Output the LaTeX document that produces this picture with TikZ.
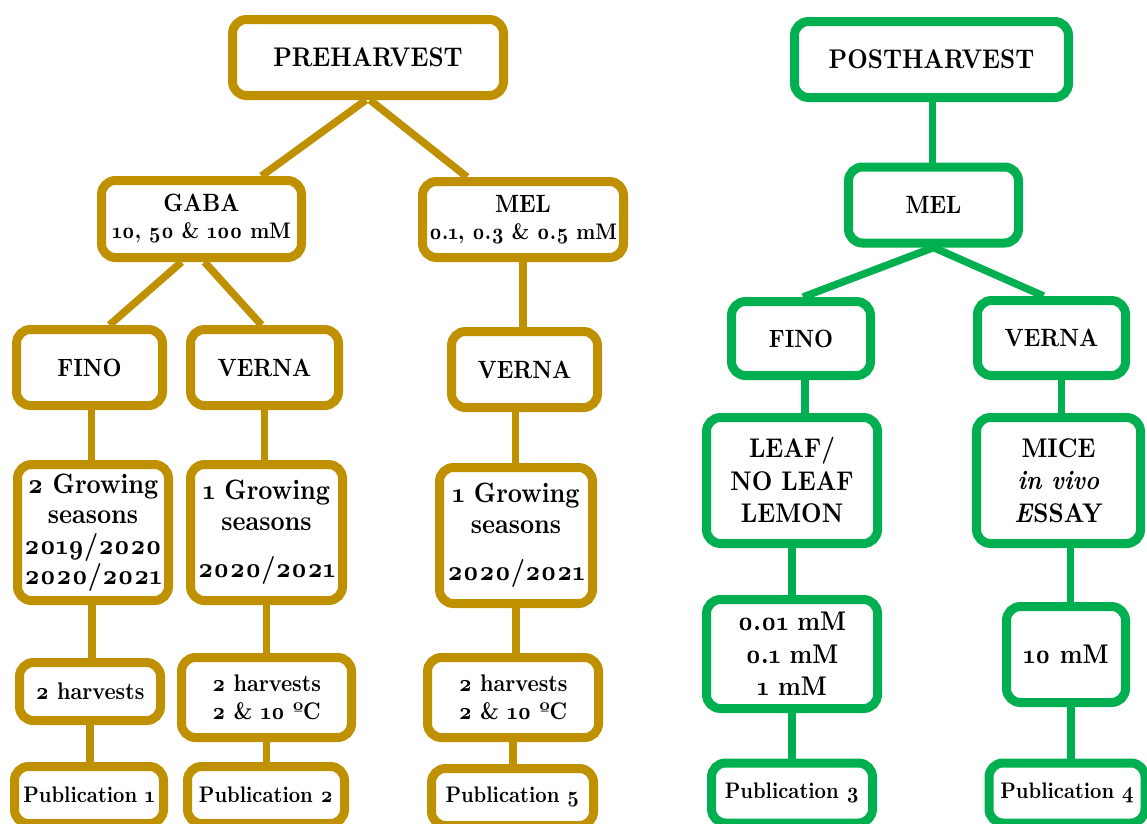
\documentclass[tikz,border=0pt]{standalone}
\usepackage{fontspec}
\setmainfont{lmroman10-regular}[Extension=.otf, BoldFont=lmroman10-bold, ItalicFont=lmroman10-italic, BoldItalicFont=lmroman10-bolditalic, Numbers=OldStyle, FakeStretch=0.88]
\usetikzlibrary{backgrounds,calc}
\definecolor{gold}{HTML}{BF9000}
\definecolor{grn}{HTML}{00B050}
\tikzset{
  box/.style={rounded corners=14pt, line width=9pt, fill=white, align=center, inner sep=0pt, font=\bfseries\fontsize{25}{29}\selectfont},
  gbox/.style={box, draw=gold},
  ebox/.style={box, draw=grn},
  gline/.style={draw=gold, line width=7.5pt},
  eline/.style={draw=grn, line width=7.5pt},
  titletxt/.style={font=\bfseries\fontsize{27}{30}\selectfont},
  pubtxt/.style={font=\bfseries\fontsize{22.5}{28}\selectfont},
  growtxt/.style={font=\bfseries\fontsize{28}{30.5}\selectfont},
  harvtxt/.style={font=\bfseries\fontsize{24}{28}\selectfont},
  bigtxt/.style={font=\bfseries\fontsize{27}{32.5}\selectfont},
}
\begin{document}
\begin{tikzpicture}[x=1pt,y=-1pt]
\useasboundingbox (0,0) rectangle (1147,823);
% ---------- PREHARVEST ----------
\node[gbox, titletxt, minimum width=271pt, minimum height=76pt] (pre) at (368,57.5) {PREHARVEST};
\node[gbox, minimum width=200pt, minimum height=77pt] (gaba) at (201.5,219) {GABA\\[-2pt]{\fontsize{22.5}{26}\selectfont 10, 50 \& 100 mM}};
\node[gbox, minimum width=201pt, minimum height=76pt] (melg) at (523,219.5) {MEL\\[-2pt]{\fontsize{22.5}{26}\selectfont 0.1, 0.3 \& 0.5 mM}};
\node[gbox, minimum width=146pt, minimum height=76pt] (finog) at (89.5,367.5) {FINO};
\node[gbox, minimum width=148pt, minimum height=76pt] (verna1) at (264.5,367.5) {VERNA};
\node[gbox, minimum width=146pt, minimum height=76pt] (verna2) at (524.5,369.5) {VERNA};
\node[gbox, growtxt, minimum width=151pt, minimum height=136pt] (g1) at (93,532.5) {2 Growing\\seasons\\2019/2020\\2020/2021};
\node[gbox, growtxt, minimum width=152pt, minimum height=136pt] (g2) at (266.5,532.5) {1 Growing\\seasons\\[17pt]2020/2021};
\node[gbox, growtxt, minimum width=153pt, minimum height=136pt] (g3) at (516,535.5) {1 Growing\\seasons\\[17pt]2020/2021};
\node[gbox, harvtxt, minimum width=141pt, minimum height=58pt] (h1) at (90,691.5) {2 harvests};
\node[gbox, harvtxt, minimum width=170pt, minimum height=80pt] (h2) at (266.5,697.5) {2 harvests\\2 \& 10 ºC};
\node[gbox, harvtxt, minimum width=171pt, minimum height=80pt] (h3) at (513,697.5) {2 harvests\\2 \& 10 ºC};
\node[gbox, pubtxt, minimum width=149pt, minimum height=57pt] (p1) at (89,795) {Publication 1};
\node[gbox, pubtxt, minimum width=157pt, minimum height=57pt] (p2) at (266,795) {Publication 2};
\node[gbox, pubtxt, minimum width=162pt, minimum height=57pt] (p5) at (512.5,797) {Publication 5};
% ---------- POSTHARVEST ----------
\node[ebox, titletxt, minimum width=274pt, minimum height=76pt] (post) at (931.5,59.5) {POSTHARVEST};
\node[ebox, minimum width=170pt, minimum height=76pt] (mele) at (933.5,205) {MEL};
\node[ebox, minimum width=139pt, minimum height=74pt] (finoe) at (801,338.5) {FINO};
\node[ebox, minimum width=148pt, minimum height=75pt] (vernae) at (1051.5,338) {VERNA};
\node[ebox, bigtxt, minimum width=171pt, minimum height=126pt] (leaf) at (792,480.5) {LEAF/\\NO LEAF\\LEMON};
\node[ebox, bigtxt, minimum width=164pt, minimum height=126pt] (mice) at (1058.5,480.5) {MICE\\\textit{in vivo}\\\textit{E}SSAY};
\node[ebox, bigtxt, minimum width=171pt, minimum height=109pt] (conc) at (792,654) {0.01 mM\\0.1 mM\\1 mM};
\node[ebox, bigtxt, minimum width=119pt, minimum height=96pt] (ten) at (1066,654.5) {10 mM};
\node[ebox, pubtxt, minimum width=161pt, minimum height=60pt] (p3) at (792,793) {Publication 3};
\node[ebox, pubtxt, minimum width=156pt, minimum height=60pt] (p4) at (1067,793) {Publication 4};
% ---------- connectors ----------
\begin{scope}[on background layer]
\draw[gline] ([xshift=-2pt]pre.south) -- ([xshift=60pt]gaba.north);
\draw[gline] ([xshift=2pt]pre.south) -- ([xshift=-56pt]melg.north);
\draw[gline] ([xshift=-20pt]gaba.south) -- ([xshift=20pt]finog.north);
\draw[gline] ([xshift=3pt]gaba.south) -- ([xshift=-3pt]verna1.north);
\draw[gline] (melg.south) -- (melg.south |- verna2.north);
\draw[gline] ([xshift=2pt]finog.south) -- ([xshift=2pt]finog.south |- g1.north);
\draw[gline] ([xshift=-1pt]g1.south) -- ([xshift=-1pt]g1.south |- h1.north);
\draw[gline] (h1.south) -- (h1.south |- p1.north);
\draw[gline] (verna1.south) -- (verna1.south |- g2.north);
\draw[gline] (g2.south) -- (g2.south |- h2.north);
\draw[gline] (h2.south) -- (h2.south |- p2.north);
\draw[gline] ([xshift=-9pt]verna2.south) -- ([xshift=-9pt]verna2.south |- g3.north);
\draw[gline] (g3.south) -- (g3.south |- h3.north);
\draw[gline] (h3.south) -- (h3.south |- p5.north);
\draw[eline] ([xshift=1pt]post.south) -- ([xshift=1pt]post.south |- mele.north);
\draw[eline] (mele.south) -- ([xshift=2pt]finoe.north);
\draw[eline] (mele.south) -- ([xshift=-8pt]vernae.north);
\draw[eline] ([xshift=4pt]finoe.south) -- ([xshift=4pt]finoe.south |- leaf.north);
\draw[eline] (leaf.south) -- (leaf.south |- conc.north);
\draw[eline] (conc.south) -- (conc.south |- p3.north);
\draw[eline] ([xshift=10pt]vernae.south) -- ([xshift=10pt]vernae.south |- mice.north);
\draw[eline] ([xshift=12pt]mice.south) -- ([xshift=12pt]mice.south |- ten.north);
\draw[eline] ([xshift=5pt]ten.south) -- ([xshift=5pt]ten.south |- p4.north);
\end{scope}
\end{tikzpicture}
\end{document}
